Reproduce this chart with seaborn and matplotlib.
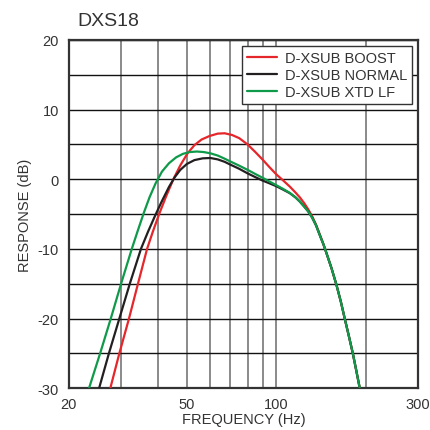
import matplotlib
matplotlib.use("Agg")
import matplotlib.pyplot as plt
import seaborn as sns
import pandas as pd

# response curves (Hz, dB)
boost_freq = [27.6, 29.6, 31.9, 34.2, 36.7, 38.4, 40.3, 42.5, 45.0, 47.5, 50.2, 53, 56, 59.5,
              63.5, 67, 71, 75, 80, 85, 90, 95, 100, 105, 111, 116, 120, 124, 128, 132, 136,
              140.6, 144, 147.8, 153.5, 159.5, 165, 170, 175.5, 181, 186, 191]
boost_db = [-30, -25, -20, -15, -10, -7.5, -5, -2.5, 0, 2, 3.7, 4.9, 5.7, 6.2,
            6.55, 6.6, 6.35, 5.9, 5.0, 3.9, 2.8, 1.7, 0.7, -0.1, -1.05, -1.9, -2.6, -3.4, -4.3, -5.3, -6.5,
            -8.1, -9.3, -10.7, -12.8, -15.2, -17.6, -20, -22.5, -25, -27.5, -30]

normal_freq = [25.3, 27.3, 29.6, 32.1, 35.0, 37.0, 38.9, 41.0, 43.5, 45.5, 47.5, 50, 53, 56.5,
               60, 63.5, 67, 70, 75, 80, 85, 90, 95, 100, 105, 111, 116, 120, 124, 128, 132, 136,
               140.6, 144, 147.8, 153.5, 159.5, 165, 170, 175.5, 181, 186, 191]
normal_db = [-30, -25, -20, -15, -10, -7.5, -5.4, -3.3, -1.1, 0.3, 1.35, 2.2, 2.75, 3.0,
             3.05, 2.85, 2.5, 2.1, 1.5, 0.85, 0.3, -0.2, -0.6, -1.0, -1.45, -2.0, -2.6, -3.2, -3.9, -4.6, -5.5, -6.6,
             -8.2, -9.3, -10.7, -12.8, -15.2, -17.6, -20, -22.5, -25, -27.5, -30]

xtd_freq = [23.4, 25.5, 27.7, 30.0, 32.6, 34.2, 35.8, 37.4, 39.2, 41.2, 43.5, 46, 48.5, 51, 54,
            57, 60, 63.5, 67, 70, 75, 80, 85, 90, 95, 100, 105, 111, 116, 120, 124, 128, 132, 136,
            140.6, 144, 147.8, 153.5, 159.5, 165, 170, 175.5, 181, 186, 191]
xtd_db = [-30, -25, -20, -15, -10, -7.3, -4.8, -2.6, -0.6, 1.1, 2.3, 3.15, 3.65, 3.9, 3.98,
          3.9, 3.72, 3.4, 2.95, 2.55, 1.95, 1.35, 0.75, 0.2, -0.35, -0.85, -1.35, -1.95, -2.6, -3.2, -3.9, -4.6, -5.5, -6.6,
          -8.2, -9.3, -10.7, -12.8, -15.2, -17.6, -20, -22.5, -25, -27.5, -30]

series_names = ["D-XSUB BOOST", "D-XSUB NORMAL", "D-XSUB XTD LF"]
series_colors = ["#e5262b", "#231f20", "#0f9a4a"]

x_ticks = [20, 50, 100, 300]
x_minor = [30, 40, 60, 70, 80, 90, 200]

df = pd.concat([
    pd.DataFrame({"freq": boost_freq, "db": boost_db, "curve": series_names[0]}),
    pd.DataFrame({"freq": normal_freq, "db": normal_db, "curve": series_names[1]}),
    pd.DataFrame({"freq": xtd_freq, "db": xtd_db, "curve": series_names[2]}),
])

sns.set_style("white")
plt.rcParams["font.family"] = ["Liberation Sans", "DejaVu Sans"]
plt.rcParams["axes.unicode_minus"] = False
text_color = "#333333"

fig = plt.figure(figsize=(4.30, 4.31), dpi=100)
ax = fig.add_axes([0.160, 0.097, 0.812, 0.808])

sns.lineplot(data=df, x="freq", y="db", hue="curve", palette=series_colors,
             hue_order=series_names, linewidth=1.6, sort=False, ax=ax, zorder=3)

ax.set_xscale("log")
ax.set_xlim(20, 300)
ax.set_ylim(-30, 20)
ax.set_xticks(x_ticks)
ax.set_xticklabels([str(t) for t in x_ticks])
ax.set_xticks(x_minor, minor=True)
ax.set_xticklabels([], minor=True)
ax.set_yticks(range(-30, 21, 10))
ax.set_yticks(range(-25, 20, 10), minor=True)

ax.grid(True, axis="x", which="both", color="#8a8a8a", linewidth=1.4)
ax.grid(True, axis="y", which="both", color="#111111", linewidth=1.0)
ax.set_axisbelow(True)
ax.tick_params(which="both", length=0, labelsize=10.5, colors=text_color)
ax.tick_params(axis="y", pad=7)
ax.tick_params(axis="x", pad=6)

for sp in ax.spines.values():
    sp.set_color("#333333")
    sp.set_linewidth(1.6)

ax.set_xlabel("FREQUENCY (Hz)", fontsize=10.5, color=text_color, labelpad=1)
ax.set_ylabel("RESPONSE (dB)", fontsize=10.5, color=text_color, labelpad=4)

fig.text(0.181, 0.949, "DXS18", fontsize=14, color=text_color, va="center", ha="left")

leg = ax.legend(loc="upper right", fontsize=10.5, frameon=True, fancybox=False,
                handlelength=2.05, borderaxespad=0.4, labelspacing=0.2,
                handletextpad=0.55, borderpad=0.35)
leg.get_frame().set_edgecolor("#333333")
leg.get_frame().set_linewidth(1.0)
leg.get_frame().set_alpha(1)
for t in leg.get_texts():
    t.set_color(text_color)

fig.savefig("out.png", dpi=100)
